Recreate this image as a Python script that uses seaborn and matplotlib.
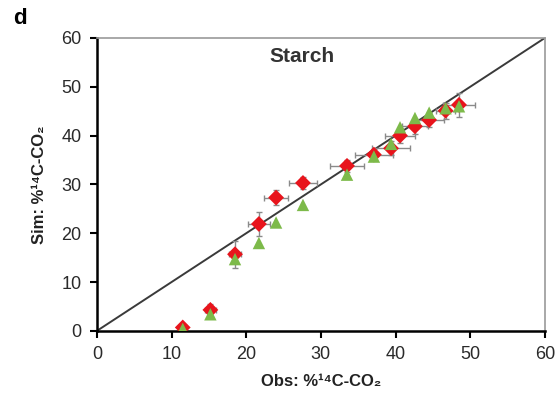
import matplotlib
matplotlib.use('Agg')
import matplotlib.pyplot as plt
import pandas as pd
import seaborn as sns

# observed values (x) and simulated values for two model versions
obs = [11.5, 15.2, 18.5, 21.7, 24.0, 27.6, 33.5, 37.1, 39.4, 40.6, 42.6, 44.5, 46.7, 48.5]
sim_red = [0.7, 4.3, 15.7, 21.9, 27.3, 30.3, 33.8, 36.1, 37.4, 40.0, 41.9, 43.2, 45.1, 46.3]
sim_green = [0.4, 3.4, 14.7, 18.0, 22.2, 25.8, 32.0, 35.7, 38.3, 41.7, 43.6, 44.7, 45.6, 46.0]
obs_err = [0.5, 0.7, 0.8, 1.5, 1.6, 1.9, 2.3, 2.5, 2.6, 2.0, 1.8, 2.0, 1.3, 2.2]
sim_err = [0.6, 1.2, 2.8, 2.4, 1.5, 1.2, 1.2, 1.2, 1.4, 1.5, 1.5, 1.5, 1.6, 2.5]
diag = [0, 60]

sns.set_style('ticks')
plt.rcParams['font.family'] = ['Liberation Sans', 'DejaVu Sans']

df = pd.DataFrame({'obs': obs, 'red': sim_red, 'green': sim_green})

fig = plt.figure(figsize=(5.6, 4.08), dpi=100)
ax = fig.add_axes([0.173, 0.189, 0.8, 0.718])

ax.plot(diag, diag, color='#3a3a3a', linewidth=1.4, zorder=1)
ax.errorbar(obs, sim_red, xerr=obs_err, yerr=sim_err, fmt='none',
            ecolor='#8a8a8a', elinewidth=1, capsize=2.5, capthick=1, zorder=2)
sns.scatterplot(data=df, x='obs', y='red', marker='D', s=65, color='#e8141c',
                edgecolor='none', ax=ax, zorder=3)
sns.scatterplot(data=df, x='obs', y='green', marker='^', s=80, color='#7dba4a',
                edgecolor='none', ax=ax, zorder=4)

ax.set_xlim(0, 60)
ax.set_ylim(0, 60)
ax.set_xticks(range(0, 61, 10))
ax.set_yticks(range(0, 61, 10))
ax.tick_params(axis='both', direction='out', length=5, width=1.5,
               labelsize=13, labelcolor='#2a2a2a', color='black', pad=6)

for side in ['left', 'bottom']:
    ax.spines[side].set_linewidth(1.8)
    ax.spines[side].set_color('black')
for side in ['top', 'right']:
    ax.spines[side].set_visible(True)
    ax.spines[side].set_linewidth(1.2)
    ax.spines[side].set_color('#9a9a9a')

ax.set_xlabel('Obs: %¹⁴C-CO₂', fontsize=12,
              fontweight='bold', color='#222222', labelpad=8)
ax.set_ylabel('Sim: %¹⁴C-CO₂', fontsize=12,
              fontweight='bold', color='#222222', labelpad=10)
ax.text(27.5, 56.3, 'Starch', ha='center', va='center', fontsize=15,
        fontweight='bold', color='#333333')
fig.text(0.023, 0.955, 'd', ha='left', va='center', fontsize=16,
         fontweight='bold', color='black')

fig.savefig('out.png', dpi=100)
